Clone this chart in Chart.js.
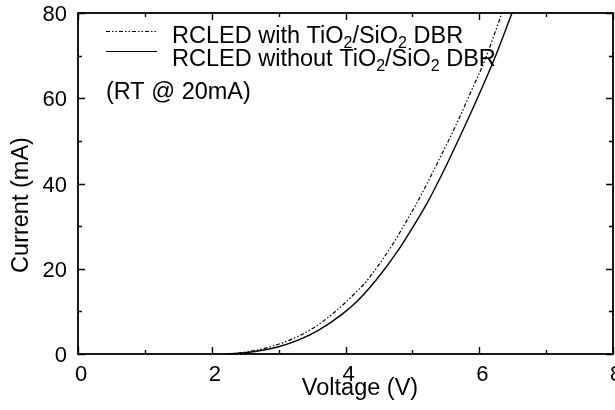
<!DOCTYPE html>
<html>
<head>
<meta charset="utf-8">
<script src="https://cdn.jsdelivr.net/npm/chart.js@4.4.0/dist/chart.umd.min.js"></script>
<style>
  html, body { margin: 0; padding: 0; background: #fff; }
  #wrap { position: relative; width: 615px; height: 410px; }
</style>
</head>
<body>
<div id="wrap"><canvas id="chart"></canvas></div>
<script>
// I-V data
const voltWith = [2.2, 2.45, 2.7, 2.9, 3.2, 3.5, 3.82, 4.1, 4.34, 4.7, 4.92, 5.09, 5.38, 5.67, 5.87, 6.09, 6.34];
const currWith = [0, 0.35, 1.0, 1.8, 3.5, 5.9, 9.6, 13.6, 17.6, 25.6, 31.4, 36.1, 45, 54.3, 61.3, 69.2, 80];
const voltWithout = [2.2, 2.5, 2.8, 3.0, 3.3, 3.6, 3.97, 4.2, 4.47, 4.8, 5.04, 5.22, 5.5, 5.8, 6.0, 6.21, 6.49];
const currWithout = [0, 0.3, 1.0, 1.7, 3.3, 5.6, 9.6, 12.8, 17.6, 24.6, 30.6, 35.4, 44, 54, 61, 68.6, 80];
const xTicks = [0, 2, 4, 6, 8];
const yTicks = [0, 20, 40, 60, 80];

const FONT = "'Liberation Sans', Arial, sans-serif";
const TXT = 23.5;

function pts(xs, ys) {
  return xs.map((x, i) => ({ x: x, y: ys[i] }));
}

// text with subscript pieces, e.g. ["TiO", "_2"]
function drawRich(ctx, parts, x, y, size) {
  let cx = x;
  parts.forEach(p => {
    if (p.startsWith("_")) {
      ctx.font = Math.round(size * 0.66) + "px " + FONT;
      ctx.fillText(p.slice(1), cx, y + size * 0.2);
      cx += ctx.measureText(p.slice(1)).width;
    } else {
      ctx.font = size + "px " + FONT;
      ctx.fillText(p, cx, y);
      cx += ctx.measureText(p).width;
    }
  });
}

const framePlugin = {
  id: "frame",
  afterDraw(chart) {
    const ctx = chart.ctx;
    const a = chart.chartArea;
    const xs = chart.scales.x, ys = chart.scales.y;
    ctx.save();
    ctx.strokeStyle = "#000";
    ctx.lineWidth = 1.8;
    ctx.strokeRect(a.left, a.top, a.right - a.left, a.bottom - a.top);

    // inward ticks on all four sides
    ctx.lineWidth = 1.4;
    ctx.beginPath();
    for (let v = 0; v <= 8; v++) {
      const px = Math.round(xs.getPixelForValue(v)) + 0.5;
      const len = v % 2 === 0 ? 7 : 4;
      ctx.moveTo(px, a.bottom); ctx.lineTo(px, a.bottom - len);
      ctx.moveTo(px, a.top); ctx.lineTo(px, a.top + len);
    }
    for (let v = 0; v <= 80; v += 10) {
      const py = Math.round(ys.getPixelForValue(v)) + 0.5;
      const len = v % 20 === 0 ? 7 : 4;
      ctx.moveTo(a.left, py); ctx.lineTo(a.left + len, py);
      ctx.moveTo(a.right, py); ctx.lineTo(a.right - len, py);
    }
    ctx.stroke();

    // axis titles
    ctx.fillStyle = "#000";
    ctx.font = TXT + "px " + FONT;
    ctx.textAlign = "center";
    ctx.textBaseline = "alphabetic";
    ctx.fillText("Voltage (V)", 360, 395);
    ctx.save();
    ctx.translate(28, 205);
    ctx.rotate(-Math.PI / 2);
    ctx.fillText("Current (mA)", 0, 0);
    ctx.restore();

    // legend
    ctx.textAlign = "left";
    ctx.lineWidth = 1;
    ctx.setLineDash([4, 2, 1.5, 2, 1.5, 2]);
    ctx.beginPath();
    ctx.moveTo(106, 31.5); ctx.lineTo(157, 31.5);
    ctx.stroke();
    ctx.setLineDash([]);
    ctx.beginPath();
    ctx.moveTo(106, 51.5); ctx.lineTo(157, 51.5);
    ctx.stroke();
    drawRich(ctx, ["RCLED with TiO", "_2", "/SiO", "_2", " DBR"], 172, 43, TXT);
    drawRich(ctx, ["RCLED without TiO", "_2", "/SiO", "_2", " DBR"], 172, 66, TXT);
    ctx.font = TXT + "px " + FONT;
    ctx.fillText("(RT @ 20mA)", 106, 99);
    ctx.restore();
  }
};

new Chart(document.getElementById("chart"), {
  type: "scatter",
  data: {
    datasets: [
      {
        label: "RCLED with TiO2/SiO2 DBR",
        data: pts(voltWith, currWith),
        showLine: true,
        borderColor: "#000",
        borderWidth: 1.2,
        borderDash: [4, 2, 1.5, 2, 1.5, 2],
        pointRadius: 0,
        cubicInterpolationMode: "monotone"
      },
      {
        label: "RCLED without TiO2/SiO2 DBR",
        data: pts(voltWithout, currWithout),
        showLine: true,
        borderColor: "#000",
        borderWidth: 1.4,
        pointRadius: 0,
        cubicInterpolationMode: "monotone"
      }
    ]
  },
  options: {
    responsive: true,
    maintainAspectRatio: false,
    animation: false,
    layout: { padding: { left: 0, right: 2, top: 13, bottom: 0 } },
    plugins: { legend: { display: false }, tooltip: { enabled: false } },
    scales: {
      x: {
        type: "linear",
        min: 0, max: 8,
        afterBuildTicks: s => { s.ticks = xTicks.map(v => ({ value: v })); },
        afterFit: s => { s.height = 56; s.paddingLeft = 0; s.paddingRight = 0; },
        grid: { display: false, drawTicks: false },
        border: { display: false },
        ticks: { color: "#000", font: { family: FONT, size: 22 }, padding: 8, labelOffset: 3, maxRotation: 0, autoSkip: false }
      },
      y: {
        type: "linear",
        min: 0, max: 80,
        afterBuildTicks: s => { s.ticks = yTicks.map(v => ({ value: v })); },
        afterFit: s => { s.width = 78; s.paddingTop = 0; s.paddingBottom = 0; },
        grid: { display: false, drawTicks: false },
        border: { display: false },
        ticks: { color: "#000", font: { family: FONT, size: 22 }, padding: 11, labelOffset: 2, autoSkip: false }
      }
    }
  },
  plugins: [framePlugin]
});
</script>
</body>
</html>
